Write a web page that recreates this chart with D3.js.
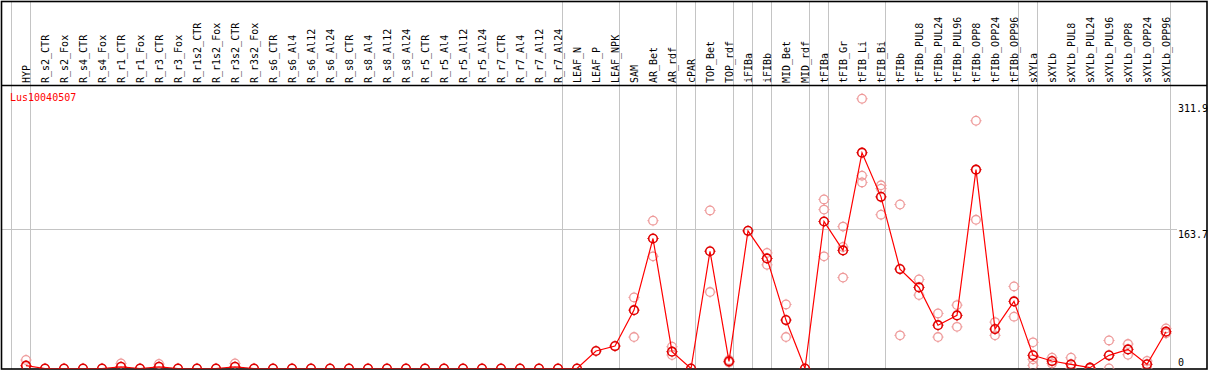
<!DOCTYPE html>
<html>
<head>
<meta charset="utf-8">
<script src="https://cdn.jsdelivr.net/npm/d3@7"></script>
<style>
    body { margin: 0; background: #fff; }
    svg { display: block; }
    text { font-family: "DejaVu Sans Mono", monospace; font-size: 10px; }
</style>
</head>
<body>
<div id="chart"></div>
<script>
var title = 'Lus10040507'

var categories = [
    'HYP',
    'R_s2_CTR', 'R_s2_Fox', 'R_s4_CTR', 'R_s4_Fox', 'R_r1_CTR', 'R_r1_Fox', 'R_r3_CTR', 'R_r3_Fox',
    'R_r1s2_CTR', 'R_r1s2_Fox', 'R_r3s2_CTR', 'R_r3s2_Fox',
    'R_s6_CTR', 'R_s6_Al4', 'R_s6_Al12', 'R_s6_Al24', 'R_s8_CTR', 'R_s8_Al4', 'R_s8_Al12', 'R_s8_Al24',
    'R_r5_CTR', 'R_r5_Al4', 'R_r5_Al12', 'R_r5_Al24', 'R_r7_CTR', 'R_r7_Al4', 'R_r7_Al12', 'R_r7_Al24',
    'LEAF_N', 'LEAF_P', 'LEAF_NPK',
    'SAM', 'AR_Bet', 'AR_rdf', 'cPAR', 'TOP_Bet', 'TOP_rdf', 'iFIBa', 'iFIBb', 'MID_Bet', 'MID_rdf',
    'tFIBa', 'tFIB_Gr', 'tFIB_Li', 'tFIB_Bi',
    'tFIBb', 'tFIBb_PUL8', 'tFIBb_PUL24', 'tFIBb_PUL96', 'tFIBb_OPP8', 'tFIBb_OPP24', 'tFIBb_OPP96',
    'sXYLa', 'sXYLb', 'sXYLb_PUL8', 'sXYLb_PUL24', 'sXYLb_PUL96', 'sXYLb_OPP8', 'sXYLb_OPP24', 'sXYLb_OPP96'
]

// mean expression per sample
var means = [
    3.3,
    0, 0, 0, 0, 2, 0, 2, 0,
    0, 0, 2, 0,
    0, 0, 0, 0, 0, 0, 0, 0,
    0, 0, 0, 0, 0, 0, 0, 0,
    0, 20.6, 26.4,
    68.7, 153, 19.8, 0, 138, 8.4, 162, 129.5, 57, 0,
    173, 139, 254, 202,
    117, 95.4, 51, 62.5, 234, 46.4, 79,
    15.5, 8.8, 4.9, 1, 15.5, 22.5, 4.9, 43.3
]

// individual replicates (only those that show above the baseline)
var replicates = [
    [10],
    [], [], [], [], [6], [], [5.3], [],
    [], [], [6], [],
    [], [], [], [], [], [], [], [],
    [], [], [], [], [], [], [], [],
    [], [], [],
    [83.7, 37], [174, 132], [25.6, 15.9], [], [186, 90], [10, 7], [], [136, 122], [75.4, 37], [],
    [199, 187, 132], [167, 143, 107], [317.5, 227, 219], [215.6, 211.7, 181],
    [193, 39], [104.8, 86.4], [64.8, 37], [74.6, 49], [291.6, 175], [54.6, 39], [96.6, 61],
    [30.8, 10.8, 3.7], [12.7, 6], [12.7, 0], [0], [33, 0], [28.8, 16.2], [8.8, 0], [47.2, 41.4]
]

// index of the first sample of each group (vertical separators)
var groupStarts = [0, 1, 29, 32, 35, 36, 38, 39, 40, 42, 43, 46, 53, 54, 61]

var yTicks = [0, 163.7, 311.9]

var W = 1209, H = 370
var headerBottom = 85, plotBottom = 369, plotRight = 1207

var svg = d3.select('#chart').append('svg')
    .attr('width', W)
    .attr('height', H)

var x = d3.scaleBand()
    .domain(d3.range(categories.length + 1))
    .range([11, 11 + 19 * (categories.length + 1)])
    .paddingInner(0).paddingOuter(0)

function px(i) { return x(i) + 15 }
function edge(i) { return 11 + x.step() * i }

var y = d3.scaleLinear()
    .domain([0, 311.9])
    .range([368.5, 103.5])

// grid
var grid = svg.append('g')
grid.selectAll('line.v')
    .data(groupStarts)
    .enter().append('line')
    .attr('x1', function(d) { return edge(d) + 0.5 })
    .attr('x2', function(d) { return edge(d) + 0.5 })
    .attr('y1', 1).attr('y2', plotBottom)
    .attr('stroke', '#c4c4c4')
grid.selectAll('line.h')
    .data(yTicks.filter(function(t) { return t > 0 && t < 311.9 }))
    .enter().append('line')
    .attr('x1', 1).attr('x2', 1177)
    .attr('y1', function(d) { return Math.round(y(d)) + 0.5 })
    .attr('y2', function(d) { return Math.round(y(d)) + 0.5 })
    .attr('stroke', '#c4c4c4')

// sample labels
svg.append('g').selectAll('text')
    .data(categories)
    .enter().append('text')
    .attr('transform', function(d, i) { return 'translate(' + (px(i) + 4) + ',83) rotate(-90)' })
    .attr('fill', '#000')
    .text(function(d) { return d })

// frame
svg.append('rect')
    .attr('x', 1.5).attr('y', 1.5)
    .attr('width', plotRight - 1.5).attr('height', plotBottom - 1.5)
    .attr('fill', 'none').attr('stroke', '#000').attr('stroke-width', 1.6)
svg.append('line')
    .attr('x1', 1).attr('x2', plotRight)
    .attr('y1', headerBottom + 0.5).attr('y2', headerBottom + 0.5)
    .attr('stroke', '#000').attr('stroke-width', 1.4)

svg.append('text')
    .attr('x', 10).attr('y', 100.5)
    .attr('fill', '#ff0000')
    .text(title)

// y value labels
svg.append('g').selectAll('text')
    .data(yTicks)
    .enter().append('text')
    .attr('x', 1178)
    .attr('y', function(d) { return d === 0 ? 366 : y(d) + 8.5 })
    .attr('fill', '#000')
    .text(function(d) { return d })

svg.append('clipPath').attr('id', 'plotclip')
    .append('rect')
    .attr('x', 2).attr('y', headerBottom + 1)
    .attr('width', plotRight - 3).attr('height', plotBottom - headerBottom - 1.5)

var plot = svg.append('g').attr('clip-path', 'url(#plotclip)')

function marker(g, cx, cy, color, width) {
    var m = g.append('g').attr('transform', 'translate(' + cx + ',' + cy + ')')
    m.append('circle')
        .attr('r', 4.3)
        .attr('fill', 'none')
        .attr('stroke', color)
        .attr('stroke-width', width)
    m.selectAll('line')
        .data([[0, -1], [0, 1], [-1, 0], [1, 0]])
        .enter().append('line')
        .attr('x1', function(d) { return d[0] * 4.5 })
        .attr('y1', function(d) { return d[1] * 4.5 })
        .attr('x2', function(d) { return d[0] * 5.6 })
        .attr('y2', function(d) { return d[1] * 5.6 })
        .attr('stroke', color)
        .attr('stroke-width', 1)
}

var repLayer = plot.append('g')
replicates.forEach(function(reps, i) {
    reps.forEach(function(v) {
        marker(repLayer, px(i), y(v), '#ee9a9a', 1.3)
    })
})

var line = d3.line()
    .x(function(d, i) { return px(i) })
    .y(function(d) { return y(d) })
plot.append('path')
    .datum(means)
    .attr('d', line)
    .attr('fill', 'none')
    .attr('stroke', '#ff0000')
    .attr('stroke-width', 1.2)

var meanLayer = plot.append('g')
means.forEach(function(v, i) {
    marker(meanLayer, px(i), y(v), '#e00000', 1.6)
})
</script>
</body>
</html>
